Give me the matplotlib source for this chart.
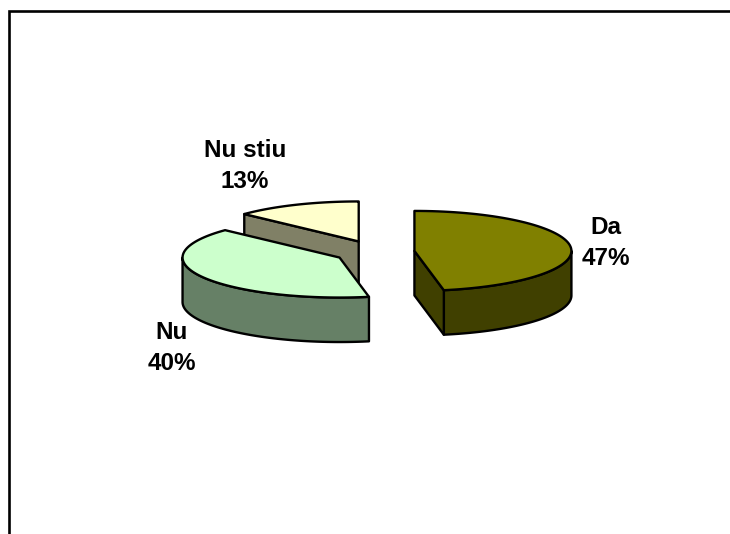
import numpy as np
import matplotlib
matplotlib.use("Agg")
import matplotlib.pyplot as plt

categorii = ["Da", "Nu", "Nu stiu"]
procente = [47, 40, 13]
culori_sus = ["#808000", "#CCFFCC", "#FFFFCC"]
culori_lat = ["#404000", "#668066", "#808066"]
pozitii_text = [(606, 243), (172, 348), (245, 166)]

plt.rcParams["font.family"] = ["Liberation Sans", "DejaVu Sans"]

# pie geometry in pixels, y goes down
cx, cy = 374.6, 252
a, b = 157, 40
ex, ey = 40, 11.5
adancime = 44.5
lw = 1.7


def arc(c0, t0, t1, dy=0):
    t = np.linspace(t0, t1, 80)
    return np.column_stack((c0[0] + a * np.sin(t), c0[1] - b * np.cos(t) + dy))


def felie(c0, t0, t1, sus, lat):
    # outer wall, only the front half of the ellipse is seen
    f0, f1 = max(t0, np.pi / 2), min(t1, 3 * np.pi / 2)
    if f1 > f0:
        perete = np.vstack((arc(c0, f0, f1), arc(c0, f0, f1, adancime)[::-1]))
        ax.fill(perete[:, 0], perete[:, 1], fc=lat, ec="black", lw=lw, joinstyle="round", zorder=z)
    # cut faces that look to the viewer
    for t in (t0, t1):
        p = arc(c0, t, t)[0]
        if (t == t0 and np.sin(t) < 0) or (t == t1 and np.sin(t) > 0):
            x = [c0[0], p[0], p[0], c0[0]]
            y = [c0[1], p[1], p[1] + adancime, c0[1] + adancime]
            ax.fill(x, y, fc=lat, ec="black", lw=lw, joinstyle="round", zorder=z)
    top = np.vstack(([c0], arc(c0, t0, t1)))
    ax.fill(top[:, 0], top[:, 1], fc=sus, ec="black", lw=lw, joinstyle="round", zorder=z + 0.5)


fig = plt.figure(figsize=(7.3, 5.34), dpi=100, facecolor="white")
ax = fig.add_axes([0, 0, 1, 1])
ax.set_xlim(0, 730)
ax.set_ylim(534, 0)
ax.axis("off")

# chart frame, only left and top are in the picture
ax.plot([9.3, 9.3, 730], [534, 11.3, 11.3], color="black", lw=1.9, solid_joinstyle="miter")

unghiuri = np.cumsum([0] + procente) / sum(procente) * 2 * np.pi
ordine = [2, 1, 0]  # back slice first
for z, i in enumerate(ordine, start=2):
    t0, t1 = unghiuri[i], unghiuri[i + 1]
    mid = (t0 + t1) / 2
    c0 = (cx + ex * np.sin(mid), cy - ey * np.cos(mid))
    felie(c0, t0, t1, culori_sus[i], culori_lat[i])

for nume, val, poz in zip(categorii, procente, pozitii_text):
    ax.text(poz[0], poz[1], f"{nume}\n{val}%", ha="center", va="center", fontsize=17.5,
            fontweight="bold", color="black", linespacing=1.44, zorder=10)

fig.savefig("out.png", dpi=100)
